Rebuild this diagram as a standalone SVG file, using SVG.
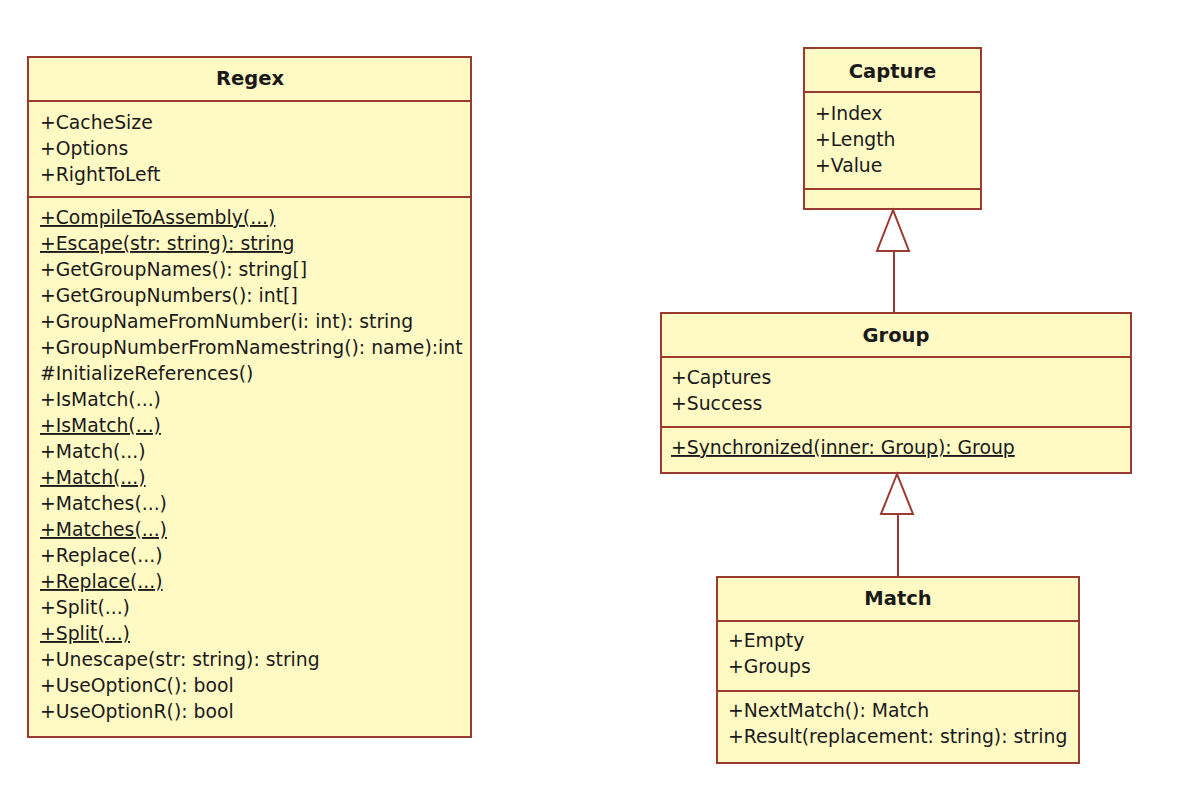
<svg xmlns="http://www.w3.org/2000/svg" width="1196" height="798" viewBox="0 0 1196 798">
<style>
.box{fill:#FFF9C4;stroke:#9A3A30;stroke-width:2}
.div{stroke:#9A3A30;stroke-width:2}
.t{font-family:"DejaVu Sans",Verdana,sans-serif;font-size:18.8px;fill:#1A1A1A}
.title{font-family:"DejaVu Sans",Verdana,sans-serif;font-size:19.5px;font-weight:bold;fill:#1A1A1A;text-anchor:middle}
.u{text-decoration:underline}
.conn{stroke:#9A3A30;stroke-width:2;fill:none}
.tri{fill:#FFFFFF;stroke:#9A3A30;stroke-width:2}
</style>
<rect width="1196" height="798" fill="#FFFFFF"/>
<g id="Regex">
<rect class="box" x="28" y="57" width="443" height="680"/>
<line class="div" x1="28" y1="101" x2="471" y2="101"/>
<line class="div" x1="28" y1="197" x2="471" y2="197"/>
<text class="title" x="250" y="85">Regex</text>
<text class="t" x="40" y="129">+CacheSize</text>
<text class="t" x="40" y="155">+Options</text>
<text class="t" x="40" y="181">+RightToLeft</text>
<text class="t u" x="40" y="224">+CompileToAssembly(...)</text>
<text class="t u" x="40" y="250">+Escape(str: string): string</text>
<text class="t" x="40" y="276">+GetGroupNames(): string[]</text>
<text class="t" x="40" y="302">+GetGroupNumbers(): int[]</text>
<text class="t" x="40" y="328">+GroupNameFromNumber(i: int): string</text>
<text class="t" x="40" y="354">+GroupNumberFromNamestring(): name):int</text>
<text class="t" x="40" y="380">#InitializeReferences()</text>
<text class="t" x="40" y="406">+IsMatch(...)</text>
<text class="t u" x="40" y="432">+IsMatch(...)</text>
<text class="t" x="40" y="458">+Match(...)</text>
<text class="t u" x="40" y="484">+Match(...)</text>
<text class="t" x="40" y="510">+Matches(...)</text>
<text class="t u" x="40" y="536">+Matches(...)</text>
<text class="t" x="40" y="562">+Replace(...)</text>
<text class="t u" x="40" y="588">+Replace(...)</text>
<text class="t" x="40" y="614">+Split(...)</text>
<text class="t u" x="40" y="640">+Split(...)</text>
<text class="t" x="40" y="666">+Unescape(str: string): string</text>
<text class="t" x="40" y="692">+UseOptionC(): bool</text>
<text class="t" x="40" y="718">+UseOptionR(): bool</text>
</g>
<g id="Capture">
<rect class="box" x="804" y="48" width="177" height="161"/>
<line class="div" x1="804" y1="92" x2="981" y2="92"/>
<line class="div" x1="804" y1="189" x2="981" y2="189"/>
<text class="title" x="892.5" y="78">Capture</text>
<text class="t" x="815" y="120">+Index</text>
<text class="t" x="815" y="146">+Length</text>
<text class="t" x="815" y="172">+Value</text>
</g>
<g id="Group">
<rect class="box" x="661" y="313" width="470" height="160"/>
<line class="div" x1="661" y1="357" x2="1131" y2="357"/>
<line class="div" x1="661" y1="427" x2="1131" y2="427"/>
<text class="title" x="896" y="342">Group</text>
<text class="t" x="671" y="384">+Captures</text>
<text class="t" x="671" y="410">+Success</text>
<text class="t u" x="671" y="454">+Synchronized(inner: Group): Group</text>
</g>
<g id="Match">
<rect class="box" x="717" y="577" width="362" height="186"/>
<line class="div" x1="717" y1="621" x2="1079" y2="621"/>
<line class="div" x1="717" y1="691" x2="1079" y2="691"/>
<text class="title" x="898" y="605">Match</text>
<text class="t" x="728" y="647">+Empty</text>
<text class="t" x="728" y="673">+Groups</text>
<text class="t" x="728" y="717">+NextMatch(): Match</text>
<text class="t" x="728" y="743">+Result(replacement: string): string</text>
</g>
<g id="connectors">
<line class="conn" x1="894" y1="251" x2="894" y2="313"/>
<polygon class="tri" points="893,210 877,251 909,251"/>
<line class="conn" x1="898" y1="514" x2="898" y2="577"/>
<polygon class="tri" points="897,474 881,514 913,514"/>
</g>
</svg>
